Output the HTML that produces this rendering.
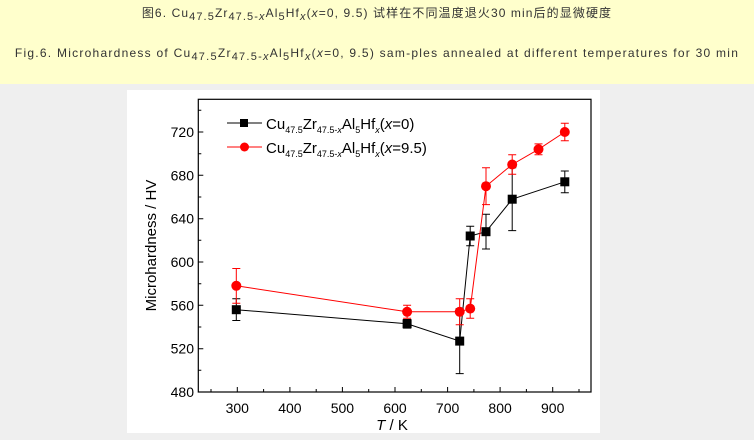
<!DOCTYPE html>
<html><head><meta charset="utf-8"><style>
body{margin:0;width:754px;height:440px;background:#efefef;overflow:hidden;font-family:"Liberation Sans","Noto Sans CJK SC",sans-serif}
#top{position:absolute;left:0;top:0;width:754px;height:84px;background:#ffffcc}
.t{position:absolute;left:0;width:754px;text-align:center;font-size:12px;color:#333;white-space:nowrap}
.t sub{font-size:11px;vertical-align:-3px;line-height:0}
#panel{position:absolute;left:127px;top:90px;width:473px;height:343px;background:#fff}
svg{position:absolute;left:0;top:0}
</style></head><body>
<div id="top"></div>
<div class="t" style="top:4px;letter-spacing:1.1px">图6. Cu<sub>47.5</sub>Zr<sub>47.5-<i>x</i></sub>Al<sub>5</sub>Hf<sub><i>x</i></sub>(<i>x</i>=0, 9.5) 试样在不同温度退火30 min后的显微硬度</div>
<div class="t" style="top:46px;letter-spacing:1.25px">Fig.6. Microhardness of Cu<sub>47.5</sub>Zr<sub>47.5-<i>x</i></sub>Al<sub>5</sub>Hf<sub><i>x</i></sub>(<i>x</i>=0, 9.5) sam-ples annealed at different temperatures for 30 min</div>
<div id="panel"></div>
<svg width="754" height="440" font-family="Liberation Sans, sans-serif">
<rect x="198.3" y="99.3" width="392.7" height="292.7" fill="none" stroke="#000" stroke-width="1.2"/>
<g stroke="#000" stroke-width="1">
<path d="M237.3 392v-5M289.9 392v-5M342.4 392v-5M395 392v-5M447.6 392v-5M500.1 392v-5M552.7 392v-5"/>
<path d="M211 392v-3M263.6 392v-3M316.2 392v-3M368.7 392v-3M421.3 392v-3M473.9 392v-3M526.4 392v-3M579 392v-3"/>
<path d="M198.3 348.7h5M198.3 305.3h5M198.3 262h5M198.3 218.7h5M198.3 175.3h5M198.3 132h5"/>
<path d="M198.3 370.3h3M198.3 327h3M198.3 283.7h3M198.3 240.3h3M198.3 197h3M198.3 153.7h3M198.3 110.3h3"/>
</g>
<g font-size="14" fill="#000" text-anchor="middle">
<text x="237.3" y="413">300</text><text x="289.9" y="413">400</text><text x="342.4" y="413">500</text><text x="395" y="413">600</text><text x="447.6" y="413">700</text><text x="500.1" y="413">800</text><text x="552.7" y="413">900</text>
</g>
<g font-size="14" fill="#000" text-anchor="end">
<text x="194" y="397">480</text><text x="194" y="353.7">520</text><text x="194" y="310.3">560</text><text x="194" y="267">600</text><text x="194" y="223.7">640</text><text x="194" y="180.3">680</text><text x="194" y="137">720</text>
</g>
<text x="392" y="430" font-size="15" text-anchor="middle"><tspan font-style="italic">T</tspan> / K</text>
<text transform="translate(156,245.5) rotate(-90)" font-size="15" text-anchor="middle">Microhardness / HV</text>
<g stroke="#000" stroke-width="1" fill="none">
<polyline points="236.3,309.7 407.1,323.8 459.7,341.1 470.2,236 486,231.7 512.2,199.2 564.8,181.8"/>
<path d="M236.3 320.5V298.8M232.3 320.5h8M232.3 298.8h8 M407.1 328.1V319.5M403.1 328.1h8M403.1 319.5h8 M459.7 373.6V308.6M455.7 373.6h8M455.7 308.6h8 M470.2 245.8V226.3M466.2 245.8h8M466.2 226.3h8 M486 249V214.3M482 249h8M482 214.3h8 M512.2 230.6V167.8M508.2 230.6h8M508.2 167.8h8 M564.8 192.7V171M560.8 192.7h8M560.8 171h8"/>
</g>
<g fill="#000">
<rect x="231.8" y="305.2" width="9" height="9"/><rect x="402.6" y="319.3" width="9" height="9"/><rect x="455.2" y="336.6" width="9" height="9"/><rect x="465.7" y="231.5" width="9" height="9"/><rect x="481.5" y="227.2" width="9" height="9"/><rect x="507.7" y="194.7" width="9" height="9"/><rect x="560.3" y="177.3" width="9" height="9"/>
</g>
<g stroke="#f00" stroke-width="1" fill="none">
<polyline points="236.3,285.8 407.1,311.8 459.7,311.8 470.2,308.6 486,186.2 512.2,164.5 538.5,149.3 564.8,132"/>
<path d="M236.3 303.2V268.5M232.3 303.2h8M232.3 268.5h8 M407.1 318.3V305.3M403.1 318.3h8M403.1 305.3h8 M459.7 324.8V298.8M455.7 324.8h8M455.7 298.8h8 M470.2 318.3V298.8M466.2 318.3h8M466.2 298.8h8 M486 204.6V167.8M482 204.6h8M482 167.8h8 M512.2 174.3V154.8M508.2 174.3h8M508.2 154.8h8 M538.5 154.8V143.9M534.5 154.8h8M534.5 143.9h8 M564.8 140.7V123.3M560.8 140.7h8M560.8 123.3h8"/>
</g>
<g fill="#f00">
<circle cx="236.3" cy="285.8" r="5"/><circle cx="407.1" cy="311.8" r="5"/><circle cx="459.7" cy="311.8" r="5"/><circle cx="470.2" cy="308.6" r="5"/><circle cx="486" cy="186.2" r="5"/><circle cx="512.2" cy="164.5" r="5"/><circle cx="538.5" cy="149.3" r="5"/><circle cx="564.8" cy="132" r="5"/>
</g>
<line x1="227" y1="123" x2="262" y2="123" stroke="#000"/><rect x="240" y="119" width="8" height="8" fill="#000"/>
<line x1="227" y1="147" x2="262" y2="147" stroke="#f00"/><circle cx="244.5" cy="147" r="4.5" fill="#f00"/>
<text x="266" y="129" font-size="15">Cu<tspan font-size="9" dy="4">47.5</tspan><tspan dy="-4">Zr</tspan><tspan font-size="9" dy="4">47.5-<tspan font-style="italic">x</tspan></tspan><tspan dy="-4">Al</tspan><tspan font-size="9" dy="4">5</tspan><tspan dy="-4">Hf</tspan><tspan font-size="9" dy="4" font-style="italic">x</tspan><tspan dy="-4">(</tspan><tspan font-style="italic">x</tspan>=0)</text>
<text x="266" y="153" font-size="15">Cu<tspan font-size="9" dy="4">47.5</tspan><tspan dy="-4">Zr</tspan><tspan font-size="9" dy="4">47.5-<tspan font-style="italic">x</tspan></tspan><tspan dy="-4">Al</tspan><tspan font-size="9" dy="4">5</tspan><tspan dy="-4">Hf</tspan><tspan font-size="9" dy="4" font-style="italic">x</tspan><tspan dy="-4">(</tspan><tspan font-style="italic">x</tspan>=9.5)</text>
</svg>
</body></html>
